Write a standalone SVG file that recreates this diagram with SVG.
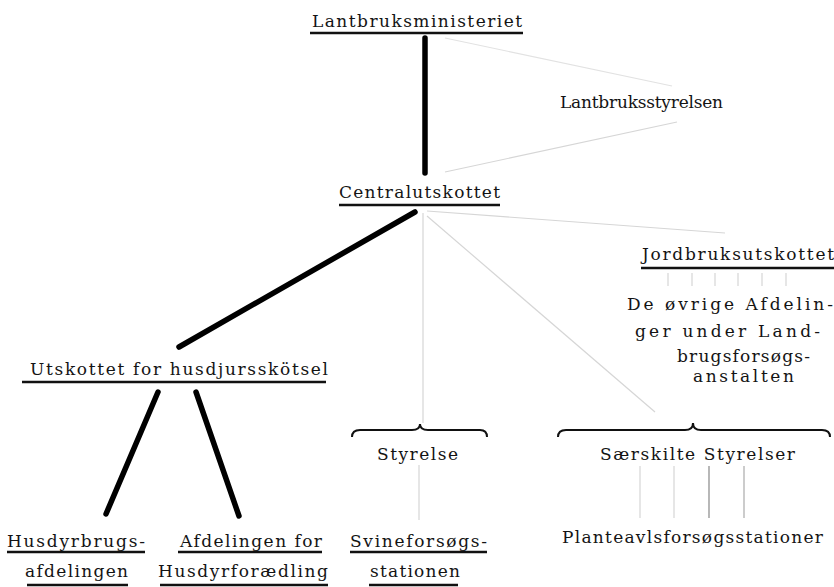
<svg xmlns="http://www.w3.org/2000/svg" width="834" height="587" viewBox="0 0 834 587">
<style>
.t{font-family:'DejaVu Serif','Liberation Serif',serif;font-size:17px;fill:#141414}
.ul{stroke:#111;stroke-width:2.5;fill:none}
.thick{stroke:#000;stroke-width:5.5;stroke-linecap:round;fill:none}
.faint{stroke:#d6d6d6;stroke-width:1.2;fill:none}
.mid{stroke:#888;stroke-width:1.2;fill:none}
.brace{stroke:#111;stroke-width:2;fill:none}
</style>
<rect width="834" height="587" fill="#fff"/>
<g id="connectors">
<line class="thick" x1="425" y1="38" x2="425" y2="173"/>
<line class="faint" x1="445" y1="38" x2="672" y2="86" style="stroke:#e2e2e2"/>
<line class="faint" x1="445" y1="172" x2="677" y2="122"/>
<line class="thick" x1="415" y1="212" x2="179" y2="347"/>
<line class="faint" x1="423" y1="213" x2="423" y2="423"/>
<line class="faint" x1="427" y1="211" x2="725" y2="233"/>
<line class="faint" x1="427" y1="216" x2="655" y2="412"/>
<line class="thick" x1="158" y1="392" x2="106" y2="514"/>
<line class="thick" x1="196" y1="392" x2="239" y2="516"/>
<line class="faint" x1="419" y1="465" x2="419" y2="520"/>
<g class="faint">
<line x1="668" y1="273" x2="668" y2="286"/>
<line x1="692" y1="273" x2="692" y2="286"/>
<line x1="715" y1="273" x2="715" y2="286"/>
<line x1="738" y1="273" x2="738" y2="286"/>
<line x1="762" y1="273" x2="762" y2="286"/>
<line x1="786" y1="273" x2="786" y2="286"/>
<line x1="640" y1="466" x2="640" y2="518"/>
<line x1="674" y1="466" x2="674" y2="518"/>
</g>
<line class="mid" x1="709" y1="466" x2="709" y2="518"/>
<line class="faint" x1="744" y1="466" x2="744" y2="518" style="stroke:#aaa"/>
<path class="brace" d="M352,437 Q352,430 360,430 L412,430 Q420,430 420,424 Q420,430 428,430 L480,430 Q487,430 487,437"/>
<path class="brace" d="M558,437 Q558,430 566,430 L685,430 Q693,430 693,423 Q693,430 701,430 L822,430 Q830,430 830,437"/>
</g>
<g id="lantbruksministeriet">
<text class="t" x="312" y="27" textLength="210" lengthAdjust="spacing">Lantbruksministeriet</text>
<line class="ul" x1="310" y1="33" x2="523" y2="33"/>
</g>
<g id="lantbruksstyrelsen">
<text class="t" x="560" y="108" textLength="163" lengthAdjust="spacing">Lantbruksstyrelsen</text>
</g>
<g id="centralutskottet">
<text class="t" x="339" y="198" textLength="161" lengthAdjust="spacing">Centralutskottet</text>
<line class="ul" x1="339" y1="205" x2="500" y2="205"/>
</g>
<g id="jordbruksutskottet">
<text class="t" x="642" y="260" textLength="192" lengthAdjust="spacing">Jordbruksutskottet</text>
<line class="ul" x1="641" y1="268" x2="834" y2="268"/>
</g>
<g id="ovrige">
<text class="t" x="627" y="310" textLength="206" lengthAdjust="spacing">De øvrige Afdelin-</text>
<text class="t" x="635" y="337" textLength="185" lengthAdjust="spacing">ger under Land-</text>
<text class="t" x="677" y="362" textLength="133" lengthAdjust="spacing">brugsforsøgs-</text>
<text class="t" x="693" y="382" textLength="101" lengthAdjust="spacing">anstalten</text>
</g>
<g id="utskottet">
<text class="t" x="30" y="375" textLength="298" lengthAdjust="spacing">Utskottet for husdjursskötsel</text>
<line class="ul" x1="22" y1="382" x2="326" y2="382"/>
</g>
<g id="styrelse">
<text class="t" x="377" y="460" textLength="81" lengthAdjust="spacing">Styrelse</text>
</g>
<g id="saerskilte">
<text class="t" x="600" y="460" textLength="195" lengthAdjust="spacing">Særskilte Styrelser</text>
</g>
<g id="husdyrbrugs">
<text class="t" x="7" y="547" textLength="138" lengthAdjust="spacing">Husdyrbrugs-</text>
<line class="ul" x1="7" y1="552" x2="145" y2="552"/>
<text class="t" x="25" y="577" textLength="103" lengthAdjust="spacing">afdelingen</text>
<line class="ul" x1="27" y1="585" x2="128" y2="585"/>
</g>
<g id="afdelingen">
<text class="t" x="180" y="547" textLength="142" lengthAdjust="spacing">Afdelingen for</text>
<line class="ul" x1="178" y1="552" x2="322" y2="552"/>
<text class="t" x="158" y="577" textLength="170" lengthAdjust="spacing">Husdyrforædling</text>
<line class="ul" x1="160" y1="585" x2="328" y2="585"/>
</g>
<g id="svineforsogs">
<text class="t" x="350" y="547" textLength="137" lengthAdjust="spacing">Svineforsøgs-</text>
<line class="ul" x1="350" y1="552" x2="487" y2="552"/>
<text class="t" x="370" y="577" textLength="90" lengthAdjust="spacing">stationen</text>
<line class="ul" x1="369" y1="585" x2="458" y2="585"/>
</g>
<g id="planteavl">
<text class="t" x="562" y="543" textLength="261" lengthAdjust="spacing">Planteavlsforsøgsstationer</text>
</g>
</svg>
